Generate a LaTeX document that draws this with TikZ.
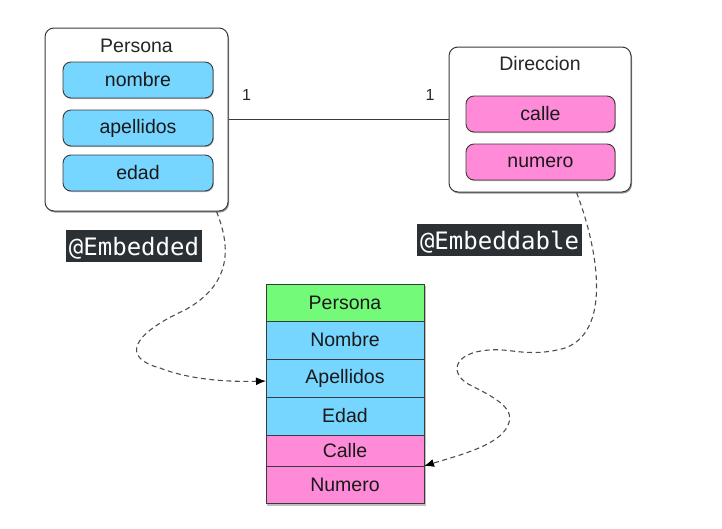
\documentclass[tikz,border=0pt]{standalone}
\usepackage{fontspec}
\setmainfont{Liberation Sans}
\newfontfamily\codefont{DejaVu Sans Mono}
\usetikzlibrary{arrows.meta,calc,shadows}
\definecolor{sky}{HTML}{76D6FF}
\definecolor{carnation}{HTML}{FF8AD8}
\definecolor{flora}{HTML}{73FA79}
\definecolor{edge}{HTML}{3A3A3A}
\definecolor{codebg}{HTML}{2B3035}
\begin{document}
\begin{tikzpicture}[x=1pt,y=-1pt,
  outerbox/.style={draw=edge,line width=1pt,rounded corners=9pt,fill=white,
    minimum width=#1,inner sep=0pt,
    drop shadow={shadow xshift=1pt,shadow yshift=-1.5pt,opacity=0.4,fill=black}},
  fieldbox/.style={draw=edge,line width=0.9pt,rounded corners=8pt,fill=#1,
    minimum width=150pt,minimum height=36pt,inner sep=0pt,
    font=\fontsize{19.5}{21}\selectfont,text=black!90,
    drop shadow={shadow xshift=0.8pt,shadow yshift=-1pt,opacity=0.3,fill=black}},
  rowbox/.style={draw=edge,line width=0.9pt,fill=#1,minimum width=158pt,
    inner sep=0pt,outer sep=0pt,font=\fontsize{19.5}{21}\selectfont,text=black!90,anchor=north},
  title/.style={font=\fontsize{19.5}{21}\selectfont,text=black!85,inner sep=0pt},
  mult/.style={font=\fontsize{16}{18}\selectfont,text=black!85,inner sep=0pt},
  codelabel/.style={fill=codebg,text=white,font=\codefont\fontsize{24}{26}\selectfont,
    inner xsep=3pt,inner ysep=0pt,minimum height=32pt,text depth=0pt},
  dashlink/.style={draw=edge!90,line width=1.1pt,dash pattern=on 5pt off 3.5pt,
    -{Latex[length=10pt,width=8pt,fill=black,color=black]}}]
\useasboundingbox (0,0) rectangle (722,528);

% Persona entity
\node[outerbox=183pt,minimum height=183pt] (persona) at (136.5,119.5) {};
\node[title] (personaT) at (136.5,46) {Persona};
\node[fieldbox=sky] (nombre) at (138,80) {nombre};
\node[fieldbox=sky] (apellidos) at (138,128) {apellidos};
\node[fieldbox=sky] (edad) at (138,173) {edad};

% Direccion entity
\node[outerbox=182pt,minimum height=145pt] (direccion) at (540,119.5) {};
\node[title] (direccionT) at (540,64) {Direccion};
\node[fieldbox=carnation,minimum width=149pt] (calle) at (540.5,114) {calle};
\node[fieldbox=carnation,minimum width=149pt] (numero) at (540.5,162) {numero};

% association
\draw[edge,line width=0.9pt] (persona.east) -- (direccion.west);
\node[mult] (m1) at (246.5,95) {1};
\node[mult] (m2) at (430,95) {1};

% annotations
\node[codelabel] (emb) at (134,246) {@Embedded};
\node[codelabel] (embd) at (499.5,240) {@Embeddable};

% table
\fill[black,opacity=0.25] (267.2,285.5) rectangle (425.5,505.5);
\node[rowbox=flora,minimum height=37pt] (tPersona) at (345,284) {Persona};
\node[rowbox=sky,minimum height=38pt] (tNombre) at (tPersona.south) {Nombre};
\node[rowbox=sky,minimum height=38pt] (tApellidos) at (tNombre.south) {Apellidos};
\node[rowbox=sky,minimum height=38pt] (tEdad) at (tApellidos.south) {Edad};
\node[rowbox=carnation,minimum height=31pt] (tCalle) at (tEdad.south) {Calle};
\node[rowbox=carnation,minimum height=37pt] (tNumero) at (tCalle.south) {Numero};

% embedding links
\coordinate (s1) at ($(persona.south west)+(172,0)$);
\coordinate (e1) at ($(tApellidos.west)+(0,3)$);
\draw[dashlink] (s1) .. controls (232,250) and (230,285) .. (185,310)
  .. controls (130,335) and (122,358) .. (160,368)
  .. controls (190,380) and (230,382) .. (e1);

\coordinate (s2) at ($(direccion.south west)+(128,0)$);
\draw[dashlink] (s2) .. controls (595,240) and (615,330) .. (565,348)
  .. controls (530,358) and (510,348) .. (490,350)
  .. controls (452,352) and (448,375) .. (472,386)
  .. controls (500,400) and (515,410) .. (508,425)
  .. controls (500,445) and (460,455) .. (tCalle.south east);
\end{tikzpicture}
\end{document}
